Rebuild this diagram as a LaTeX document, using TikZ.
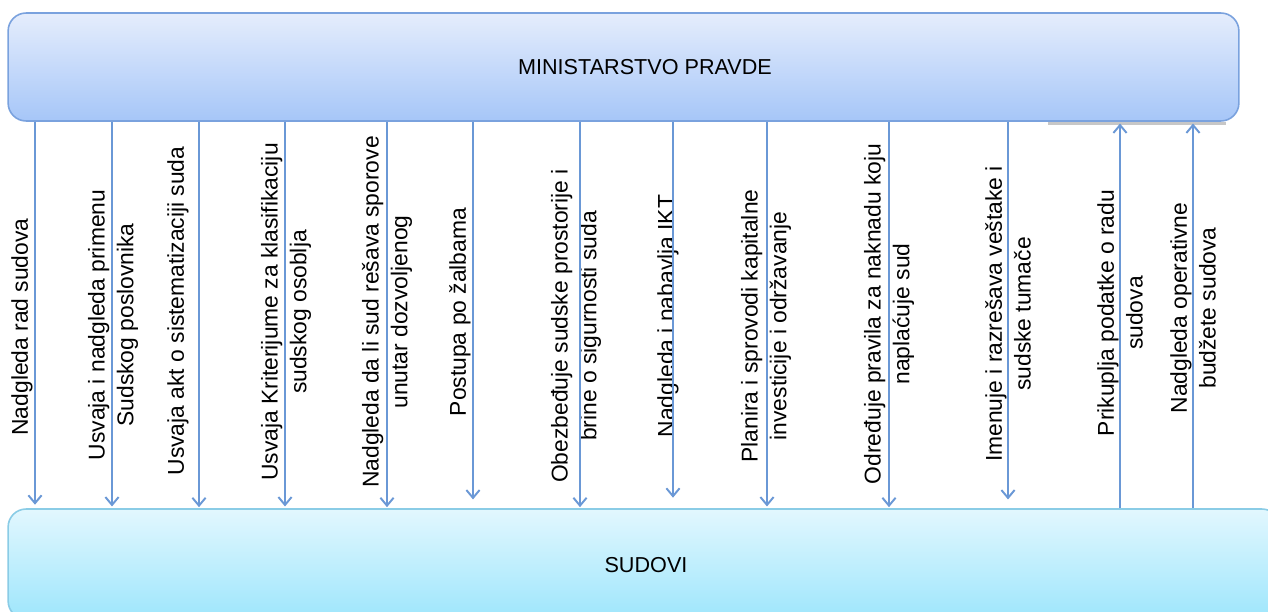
\documentclass[tikz,border=0pt]{standalone}
\usepackage{fontspec}
\setmainfont{Liberation Sans}
\usetikzlibrary{arrows.meta}
\definecolor{arrowblue}{RGB}{106,152,214}
\definecolor{mjtop}{RGB}{229,237,252}
\definecolor{mjbot}{RGB}{166,198,248}
\definecolor{mjedge}{RGB}{122,162,222}
\definecolor{sudtop}{RGB}{226,247,254}
\definecolor{sudbot}{RGB}{158,230,252}
\definecolor{sudedge}{RGB}{138,204,230}
\begin{document}
\begin{tikzpicture}[x=0.02cm, y=-0.02cm,
  box/.style={draw, line width=0.9pt, rounded corners=0.36cm, inner sep=0pt},
  mjbox/.style={box, draw=mjedge, top color=mjtop, bottom color=mjbot,
    minimum width=24.62cm, minimum height=2.16cm},
  sudbox/.style={box, draw=sudedge, top color=sudtop, bottom color=sudbot,
    minimum width=25.44cm, minimum height=2.2cm},
  lab/.style={rotate=90, align=center, font=\fontsize{13}{16.4}\selectfont, inner sep=0pt},
  boxtext/.style={font=\fontsize{12.3}{14}\selectfont, anchor=base, inner sep=0pt},
  arr/.style={draw=arrowblue, line width=1.1pt,
    -{Straight Barb[length=4.5pt, width=7.5pt, line width=1.1pt]}},
]
\useasboundingbox (0,0) rectangle (1268,612);
\clip (0,0) rectangle (1268,612);
\fill[white] (0,0) rectangle (1268,612);

% boxes
\draw[black!22, line width=1.6pt] (1048,123.5) -- (1226,123.5);
\node[mjbox] (mj) at (623.5,67) {};
\node[sudbox] (sud) at (644,564) {};
\node[boxtext] (mjt) at (645,74) {MINISTARSTVO PRAVDE};
\node[boxtext] (sudt) at (646,572) {SUDOVI};

% labels
\node[lab] (l1) at (22,327) {Nadgleda rad sudova};
\node[lab] (l2) at (113,325) {Usvaja i nadgleda primenu\\Sudskog poslovnika};
\node[lab] (l3) at (178,311) {Usvaja akt o sistematizaciji suda};
\node[lab] (l4) at (286,312) {Usvaja Kriterijume za klasifikaciju\\sudskog osoblja};
\node[lab] (l5) at (387,312) {Nadgleda da li sud rešava sporove\\unutar dozvoljenog};
\node[lab] (l6) at (460,312) {Postupa po žalbama};
\node[lab] (l7) at (576,326) {Obezbeđuje sudske prostorije i\\brine o sigurnosti suda};
\node[lab] (l8) at (668,316) {Nadgleda i nabavlja IKT};
\node[lab] (l9) at (766,326) {Planira i sprovodi kapitalne\\investicije i održavanje};
\node[lab] (l10) at (889,314) {Određuje pravila za naknadu koju\\naplaćuje sud};
\node[lab] (l11) at (1008,314) {Imenuje i razrešava veštake i\\sudske tumače};
\node[lab] (l12) at (1120,313) {Prikuplja podatke o radu\\sudova};
\node[lab] (l13) at (1193,308) {Nadgleda operativne\\budžete sudova};

% arrow columns
\coordinate (c1) at (35,0);
\coordinate (c2) at (112,0);
\coordinate (c3) at (199,0);
\coordinate (c4) at (285,0);
\coordinate (c5) at (387,0);
\coordinate (c6) at (473,0);
\coordinate (c7) at (580,0);
\coordinate (c8) at (673,0);
\coordinate (c9) at (767,0);
\coordinate (c10) at (889,0);
\coordinate (c11) at (1008,0);
\coordinate (c12) at (1120,0);
\coordinate (c13) at (1193,0);

% down arrows
\draw[arr, shorten >=2pt] (mj.south -| c1) -- (sud.north -| c1);
\draw[arr, shorten >=1pt] (mj.south -| c2) -- (sud.north -| c2);
\draw[arr, shorten >=0.6pt] (mj.south -| c3) -- (sud.north -| c3);
\draw[arr, shorten >=1pt] (mj.south -| c4) -- (sud.north -| c4);
\draw[arr, shorten >=0.6pt] (mj.south -| c5) -- (sud.north -| c5);
\draw[arr, shorten >=5pt] (mj.south -| c6) -- (sud.north -| c6);
\draw[arr, shorten >=0.6pt] (mj.south -| c7) -- (sud.north -| c7);
\draw[arr, shorten >=6pt] (mj.south -| c8) -- (sud.north -| c8);
\draw[arr, shorten >=1pt] (mj.south -| c9) -- (sud.north -| c9);
\draw[arr, shorten >=0.6pt] (mj.south -| c10) -- (sud.north -| c10);
\draw[arr, shorten >=5pt] (mj.south -| c11) -- (sud.north -| c11);
% up arrows
\draw[arr, shorten >=1pt] (sud.north -| c12) -- (mj.south -| c12);
\draw[arr, shorten >=1pt] (sud.north -| c13) -- (mj.south -| c13);
\end{tikzpicture}
\end{document}
